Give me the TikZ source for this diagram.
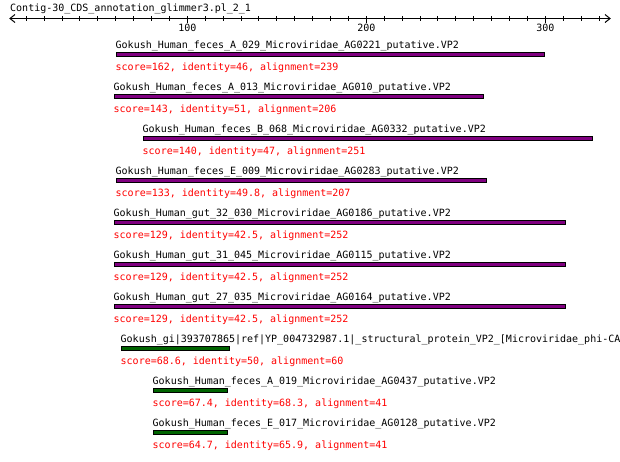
\documentclass[tikz,border=0pt]{standalone}
\usepackage{fontspec}
\newfontfamily\gdfont{DejaVu Sans Mono}
\definecolor{barpurple}{RGB}{128,0,128}
\definecolor{bargreen}{RGB}{0,100,0}
\definecolor{scorered}{RGB}{255,0,0}
\tikzset{
  ttl/.style={anchor=base west, inner sep=0pt, font=\gdfont\fontsize{10}{12}\selectfont, text=black},
  sc/.style={ttl, text=scorered},
  ticklbl/.style={anchor=base, inner sep=0pt, font=\gdfont\fontsize{10}{12}\selectfont},
  hitbar/.style={draw=black, line width=1pt},
}
\newcommand\hitrow[7]{%
  \pgfmathsetmacro\rowy{42*(#1-1)}
  \node[ttl] (t#1) at (#5,48.5+\rowy) {#6};
  \draw[hitbar, fill=#4] (#2+0.5,52.5+\rowy) rectangle (#3-0.5,56.5+\rowy);
  \node[sc] (s#1) at (#5,70.5+\rowy) {#7};
}
\begin{document}
\begin{tikzpicture}[x=1pt,y=-1pt]
\useasboundingbox (0,0) rectangle (620,461);
\clip (0,0) rectangle (620,461);
\fill[white] (0,0) rectangle (620,461);
% ruler
\node[ttl] (title) at (10,11.5) {Contig-30\_CDS\_annotation\_glimmer3.pl\_2\_1};
\coordinate (axL) at (10,18.5);
\coordinate (axR) at (610,18.5);
\draw[line width=1pt] (axL) -- (axR);
\draw[line width=1pt] (15,14.5) -- (axL) -- (15,22.5);
\draw[line width=1pt] (605,14.5) -- (axR) -- (605,22.5);
\foreach \k in {10,20,...,330} {
  \draw[line width=1pt] (8.3+1.79*\k,16) -- (8.3+1.79*\k,21);
}
\foreach \k in {100,200,300} {
  \draw[line width=1pt] (8.3+1.79*\k,16) -- (8.3+1.79*\k,23);
  \node[ticklbl] (lbl\k) at (8.3+1.79*\k,31.5) {\k};
}
% hits
\hitrow{1}{116}{545}{barpurple}{115.5}{Gokush\_Human\_feces\_A\_029\_Microviridae\_AG0221\_putative.VP2}{score=162, identity=46, alignment=239}
\hitrow{2}{114}{484}{barpurple}{113.5}{Gokush\_Human\_feces\_A\_013\_Microviridae\_AG010\_putative.VP2}{score=143, identity=51, alignment=206}
\hitrow{3}{143}{593}{barpurple}{142.5}{Gokush\_Human\_feces\_B\_068\_Microviridae\_AG0332\_putative.VP2}{score=140, identity=47, alignment=251}
\hitrow{4}{116}{487}{barpurple}{115.5}{Gokush\_Human\_feces\_E\_009\_Microviridae\_AG0283\_putative.VP2}{score=133, identity=49.8, alignment=207}
\hitrow{5}{114}{566}{barpurple}{113.5}{Gokush\_Human\_gut\_32\_030\_Microviridae\_AG0186\_putative.VP2}{score=129, identity=42.5, alignment=252}
\hitrow{6}{114}{566}{barpurple}{113.5}{Gokush\_Human\_gut\_31\_045\_Microviridae\_AG0115\_putative.VP2}{score=129, identity=42.5, alignment=252}
\hitrow{7}{114}{566}{barpurple}{113.5}{Gokush\_Human\_gut\_27\_035\_Microviridae\_AG0164\_putative.VP2}{score=129, identity=42.5, alignment=252}
\hitrow{8}{121}{230}{bargreen}{120.5}{Gokush\_gi|393707865|ref|YP\_004732987.1|\_structural\_protein\_VP2\_[Microviridae\_phi-CA8}{score=68.6, identity=50, alignment=60}
\hitrow{9}{153}{228}{bargreen}{152.5}{Gokush\_Human\_feces\_A\_019\_Microviridae\_AG0437\_putative.VP2}{score=67.4, identity=68.3, alignment=41}
\hitrow{10}{153}{228}{bargreen}{152.5}{Gokush\_Human\_feces\_E\_017\_Microviridae\_AG0128\_putative.VP2}{score=64.7, identity=65.9, alignment=41}
\end{tikzpicture}
\end{document}
